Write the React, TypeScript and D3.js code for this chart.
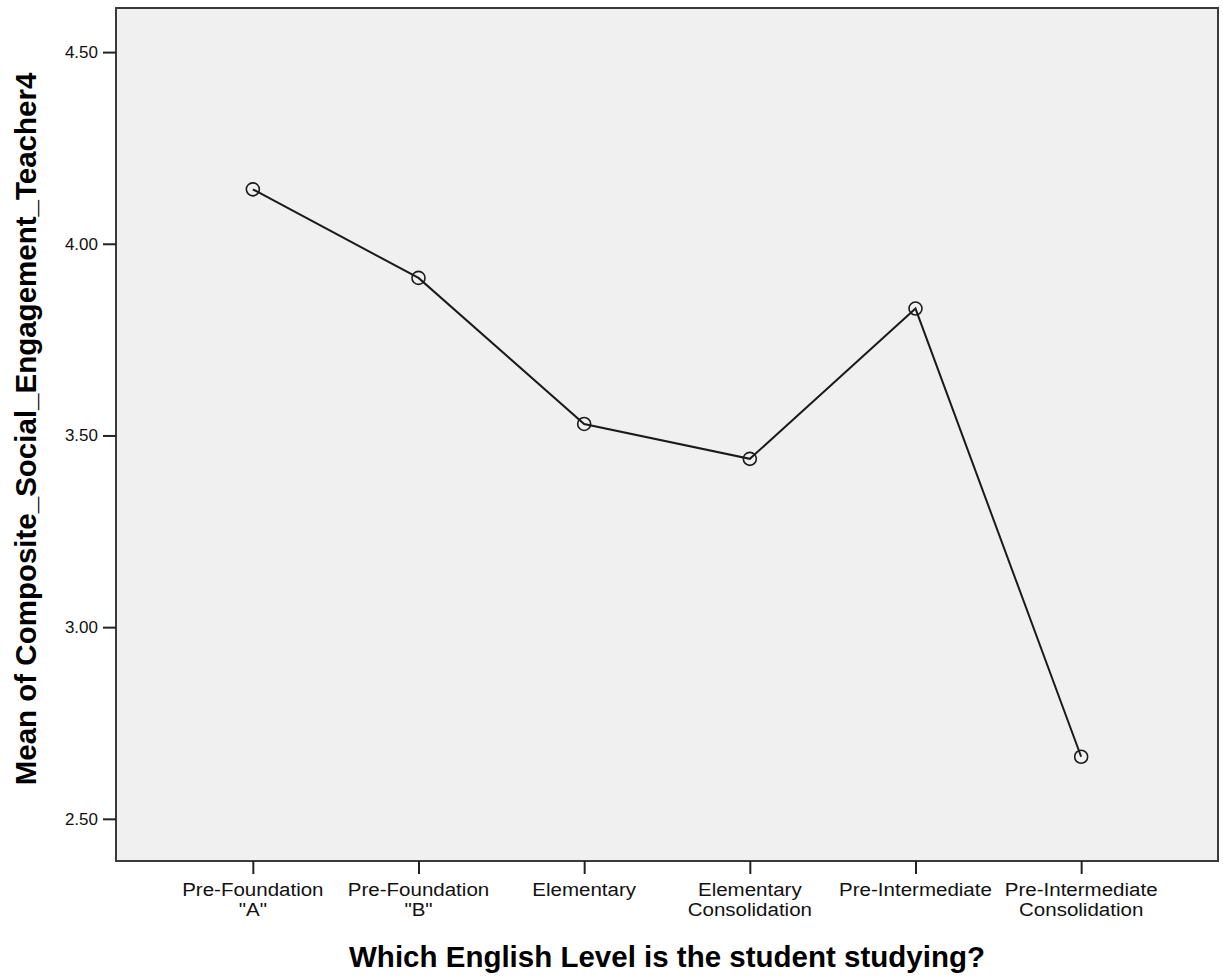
import { useEffect, useRef } from 'react';
import * as d3 from 'd3';

const WIDTH = 1223;
const HEIGHT = 979;
const MARGIN = { top: 8, right: 5, bottom: 118, left: 116 };

const levels = [
  'Pre-Foundation\n"A"',
  'Pre-Foundation\n"B"',
  'Elementary',
  'Elementary\nConsolidation',
  'Pre-Intermediate',
  'Pre-Intermediate\nConsolidation',
];
const means = [4.142, 3.911, 3.53, 3.439, 3.831, 2.662];
const yTicks = [2.5, 3.0, 3.5, 4.0, 4.5];

const FONT = '"Liberation Sans", Arial, sans-serif';

export default function App() {
  const svgRef = useRef<SVGSVGElement>(null);

  useEffect(() => {
    if (!svgRef.current) return;
    d3.select(svgRef.current).selectAll('*').remove();

    const svg = d3.select(svgRef.current);
    const innerWidth = WIDTH - MARGIN.left - MARGIN.right;
    const innerHeight = HEIGHT - MARGIN.top - MARGIN.bottom;
    const g = svg.append('g').attr('transform', `translate(${MARGIN.left},${MARGIN.top})`);

    const x = d3.scalePoint<string>().domain(levels).range([0, innerWidth]).padding(0.826);
    const y = d3.scaleLinear().domain([2.39, 4.615]).range([innerHeight, 0]);

    g.append('rect')
      .attr('width', innerWidth)
      .attr('height', innerHeight)
      .attr('fill', '#f0f0f0')
      .attr('stroke', '#3a3a3a')
      .attr('stroke-width', 2);

    // y axis
    const yAxis = d3
      .axisLeft(y)
      .tickValues(yTicks)
      .tickFormat((v) => d3.format('.2f')(Number(v)))
      .tickSize(13)
      .tickPadding(5);
    const ya = g.append('g').call(yAxis);
    ya.select('.domain').remove();
    ya.selectAll('.tick line').attr('stroke', '#222').attr('stroke-width', 2);
    ya.selectAll('text')
      .attr('fill', '#111')
      .style('font-family', FONT)
      .style('font-size', '17px');

    // x axis
    const xAxis = d3.axisBottom(x).tickSize(13).tickFormat(() => '');
    const xa = g.append('g').attr('transform', `translate(0,${innerHeight})`).call(xAxis);
    xa.select('.domain').remove();
    xa.selectAll('.tick line').attr('stroke', '#222').attr('stroke-width', 2);

    const labels = g
      .append('g')
      .selectAll('text')
      .data(levels)
      .enter()
      .append('text')
      .attr('transform', (d) => `translate(${x(d)},${innerHeight + 35}) scale(1.08,1)`)
      .attr('text-anchor', 'middle')
      .attr('fill', '#111')
      .style('font-family', FONT)
      .style('font-size', '19px');
    labels
      .selectAll('tspan')
      .data((d) => d.split('\n'))
      .enter()
      .append('tspan')
      .attr('x', 0)
      .attr('dy', (_, i) => (i === 0 ? 0 : 20))
      .text((d) => d);

    // line
    const line = d3
      .line<number>()
      .x((_, i) => x(levels[i]) ?? 0)
      .y((d) => y(d));
    g.append('path')
      .datum(means)
      .attr('fill', 'none')
      .attr('stroke', '#1a1a1a')
      .attr('stroke-width', 2)
      .attr('d', line);

    g.selectAll('circle.pt')
      .data(means)
      .enter()
      .append('circle')
      .attr('class', 'pt')
      .attr('cx', (_, i) => x(levels[i]) ?? 0)
      .attr('cy', (d) => y(d))
      .attr('r', 6.5)
      .attr('fill', 'none')
      .attr('stroke', '#1a1a1a')
      .attr('stroke-width', 1.6);

    // axis titles
    svg
      .append('text')
      .attr('x', 667)
      .attr('y', 967)
      .attr('text-anchor', 'middle')
      .attr('fill', '#000')
      .style('font-family', FONT)
      .style('font-weight', 'bold')
      .style('font-size', '29.5px')
      .text('Which English Level is the student studying?');

    svg
      .append('text')
      .attr('transform', `translate(36,429) rotate(-90)`)
      .attr('text-anchor', 'middle')
      .attr('fill', '#000')
      .style('font-family', FONT)
      .style('font-weight', 'bold')
      .style('font-size', '29.5px')
      .text('Mean of Composite_Social_Engagement_Teacher4');
  }, []);

  return (
    <svg
      ref={svgRef}
      width={WIDTH}
      height={HEIGHT}
      style={{ position: 'absolute', left: 0, top: 0, background: '#fff' }}
    />
  );
}
